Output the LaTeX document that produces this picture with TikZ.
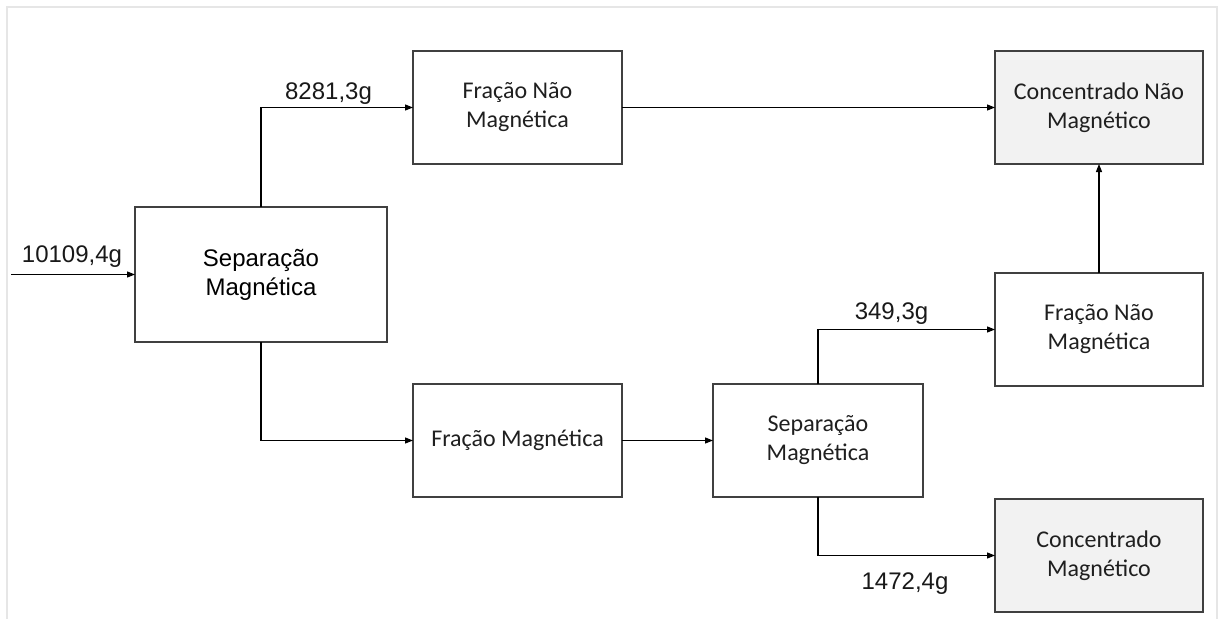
\documentclass[tikz,border=0pt]{standalone}
\usepackage{fontspec}
\setmainfont{Liberation Sans}
\newfontfamily\calibri{Carlito}
\usetikzlibrary{arrows.meta}
\definecolor{boxgray}{HTML}{404040}
\definecolor{fillgray}{HTML}{F2F2F2}
\definecolor{framegray}{HTML}{E6E6E6}
\begin{document}
\begin{tikzpicture}[x=1pt,y=-1pt,
  box/.style={draw=boxgray,line width=1.2pt,rectangle,inner sep=0pt,outer sep=0pt,
    minimum width=208pt,minimum height=113pt,align=center,
    font=\calibri\fontsize{24}{29}\selectfont,text=black!88},
  shaded/.style={box,fill=fillgray},
  flow/.style={line width=1.2pt,draw=black,-{Triangle[length=8pt,width=6pt]}},
  lbl/.style={font=\fontsize{24}{29}\selectfont,anchor=base,inner sep=0pt,text=black!90}]
\useasboundingbox (0,0) rectangle (1219,619);
\fill[white] (0,0) rectangle (1219,619);
% faint page frame
\draw[framegray,line width=1.5pt] (7,619) -- (7,7) -- (1217,7) -- (1217,619);

% boxes
\node[box,minimum width=252pt,minimum height=135pt,font=\fontsize{24}{29}\selectfont,text=black]
  (sep1) at (261,274.5) {Separação\\Magnética};
\node[box,minimum width=209pt] (fnm1) at (517.5,107.5) {Fração Não\\Magnética};
\node[shaded] (cnm) at (1099,107.5) {Concentrado Não\\Magnético};
\node[box,minimum width=209pt] (fm) at (517.5,440.5) {Fração Magnética};
\node[box,minimum width=210pt] (sep2) at (818,440.5) {Separação\\Magnética};
\node[box] (fnm2) at (1099,329.5) {Fração Não\\Magnética};
\node[shaded] (cm) at (1099,555.5) {Concentrado\\Magnético};

% input
\coordinate (in) at (11,274.5);
\draw[flow] (in) -- (sep1.west);

% connectors
\draw[flow] (sep1.north) |- (fnm1.west);
\draw[flow] (sep1.south) |- (fm.west);
\draw[flow] (fm.east) -- (sep2.west);
\draw[flow] (sep2.north) |- (fnm2.west);
\draw[flow] (sep2.south) |- (cm.west);
\draw[flow] (fnm1.east) -- (cnm.west);
\draw[flow] (fnm2.north) -- (cnm.south);

% labels
\node[lbl] (l0) at (72,262) {10109,4g};
\node[lbl] (l1) at (328.5,99) {8281,3g};
\node[lbl] (l2) at (891.5,319) {349,3g};
\node[lbl] (l3) at (905,589) {1472,4g};
\end{tikzpicture}
\end{document}
